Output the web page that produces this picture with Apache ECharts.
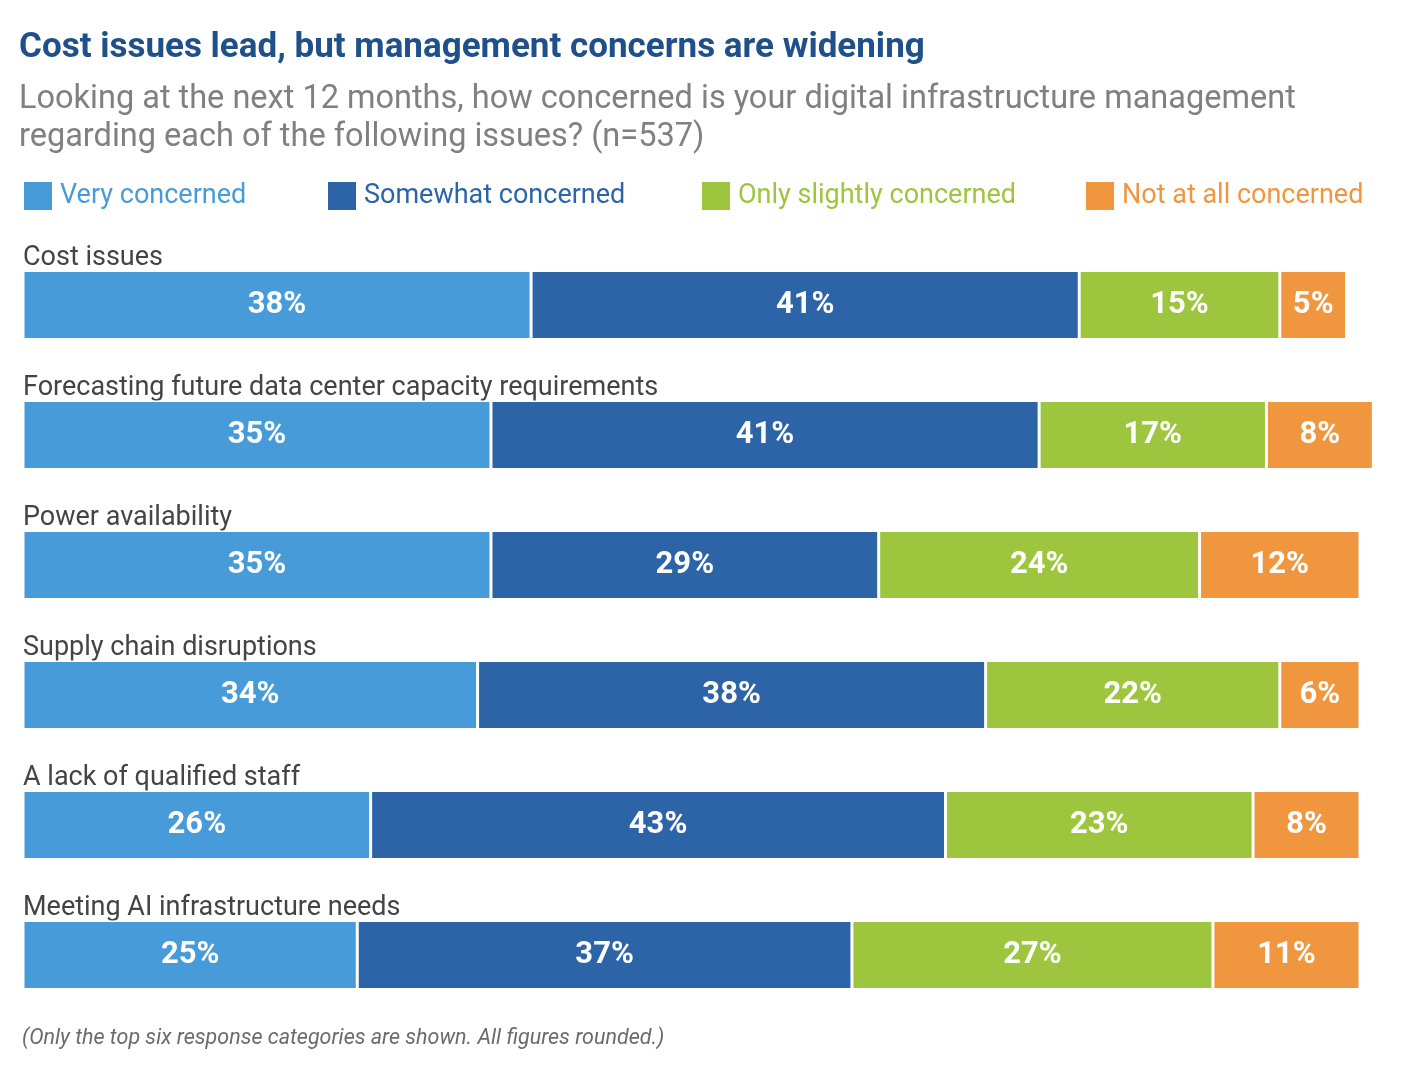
<!DOCTYPE html>
<html>
<head>
<meta charset="utf-8">
<script src="https://cdn.jsdelivr.net/npm/echarts@6/dist/echarts.min.js"></script>
<style>
  html, body { margin: 0; padding: 0; background: #fff; }
  #main { width: 1410px; height: 1076px; }
</style>
</head>
<body>
<div id="main"></div>
<script>
var FONT = 'Roboto, "Noto Sans", sans-serif';

var categories = [
    'Cost issues',
    'Forecasting future data center capacity requirements',
    'Power availability',
    'Supply chain disruptions',
    'A lack of qualified staff',
    'Meeting AI infrastructure needs'
];
var seriesNames = ['Very concerned', 'Somewhat concerned', 'Only slightly concerned', 'Not at all concerned'];
var colors = ['#479bd8', '#2c64a7', '#9dc53d', '#f0963f'];

var veryConcerned = [38, 35, 35, 34, 26, 25];
var somewhatConcerned = [41, 41, 29, 38, 43, 37];
var slightlyConcerned = [15, 17, 24, 22, 23, 27];
var notConcerned = [5, 8, 12, 6, 8, 11];

var values = [veryConcerned, somewhatConcerned, slightlyConcerned, notConcerned];
var legendLeft = [17, 321, 695, 1079];

var chartDom = document.getElementById('main');
var myChart = echarts.init(chartDom, null, { renderer: 'canvas' });

var option = {
    backgroundColor: '#fff',
    animation: false,
    title: [
        {
            text: 'Cost issues lead, but management concerns are widening',
            left: 14,
            top: 26,
            textStyle: { fontFamily: FONT, fontSize: 35, fontWeight: 'bold', color: '#1f5089' }
        },
        {
            text: 'Looking at the next 12 months, how concerned is your digital infrastructure management\nregarding each of the following issues? (n=537)',
            left: 14,
            top: 76,
            textStyle: { fontFamily: FONT, fontSize: 32.5, fontWeight: 'normal', color: '#808080', lineHeight: 38 }
        },
        {
            text: '(Only the top six response categories are shown. All figures rounded.)',
            left: 17,
            top: 1023,
            textStyle: { fontFamily: FONT, fontSize: 21.5, fontStyle: 'italic', fontWeight: 'normal', color: '#6b6b6b' }
        }
    ],
    legend: seriesNames.map(function (name, i) {
        return {
            data: [{ name: name, textStyle: { color: colors[i] } }],
            left: legendLeft[i],
            top: 175,
            icon: 'rect',
            itemWidth: 30,
            itemHeight: 30,
            itemGap: 10,
            selectedMode: false,
            textStyle: { fontFamily: FONT, fontSize: 27, padding: [0, 0, 0, 2] }
        };
    }),
    grid: {
        left: 23,
        right: 50,
        top: 240,
        height: 780,
        containLabel: false
    },
    xAxis: {
        type: 'value',
        min: 0,
        max: 100,
        show: false
    },
    yAxis: {
        type: 'category',
        data: categories,
        inverse: true,
        axisLine: { show: false },
        axisTick: { show: false },
        axisLabel: {
            inside: true,
            margin: 0,
            align: 'left',
            verticalAlign: 'bottom',
            padding: [0, 0, 33, 0],
            fontFamily: FONT,
            fontSize: 27,
            color: '#444'
        }
    },
    series: seriesNames.map(function (name, i) {
        return {
            name: name,
            type: 'bar',
            stack: 'total',
            barWidth: 69,
            clip: false,
            data: values[i],
            itemStyle: { color: colors[i], borderColor: '#fff', borderWidth: 1.5 },
            label: {
                show: true,
                position: 'inside',
                formatter: '{c}%',
                fontFamily: FONT,
                fontSize: 31,
                fontWeight: 'bold',
                color: '#fff'
            }
        };
    })
};

myChart.setOption(option);
</script>
</body>
</html>
